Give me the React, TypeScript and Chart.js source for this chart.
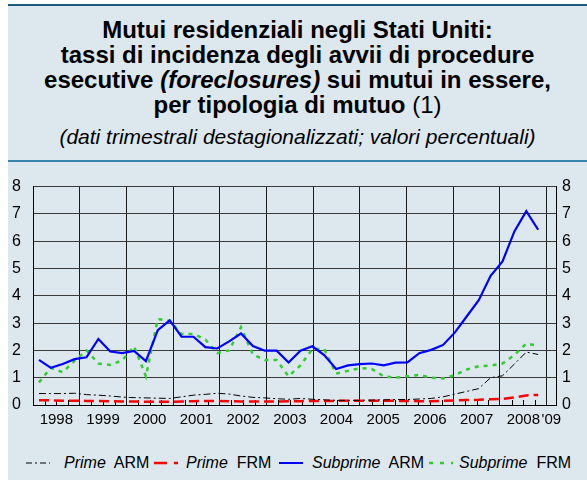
import React, { useEffect, useRef } from 'react';
import { Chart, registerables } from 'chart.js';

Chart.register(...registerables);

// ---- data ----
const years = [1998, 1999, 2000, 2001, 2002, 2003, 2004, 2005, 2006, 2007, 2008];
const quarterNames = ['I', 'II', 'III', 'IV'];
const categories = years.flatMap((y) => quarterNames.map((q) => `${q} ${y}`));
const yearTickLabels = ['1998', '1999', '2000', '2001', '2002', '2003', '2004', '2005', '2006', '2007', '2008', "'09"];

const primeARM = [
  0.42, 0.42, 0.42, 0.43, 0.38, 0.36, 0.33, 0.29, 0.27, 0.26, 0.25, 0.24, 0.30, 0.36, 0.39, 0.43,
  0.40, 0.33, 0.28, 0.26, 0.23, 0.21, 0.24, 0.21, 0.19, 0.17, 0.17, 0.17, 0.18, 0.19, 0.20, 0.20,
  0.22, 0.24, 0.30, 0.40, 0.50, 0.60, 1.00, 1.07, 1.50, 1.94, 1.85,
];
const primeFRM = [
  0.17, 0.17, 0.16, 0.16, 0.15, 0.15, 0.14, 0.13, 0.13, 0.12, 0.12, 0.12, 0.13, 0.14, 0.15, 0.15,
  0.14, 0.13, 0.13, 0.13, 0.13, 0.14, 0.14, 0.15, 0.15, 0.15, 0.16, 0.16, 0.16, 0.16, 0.15, 0.15,
  0.14, 0.14, 0.15, 0.17, 0.18, 0.19, 0.21, 0.22, 0.28, 0.35, 0.37,
];
const subprimeARM = [
  1.65, 1.36, 1.50, 1.68, 1.75, 2.42, 1.96, 1.90, 1.98, 1.61, 2.74, 3.10, 2.50, 2.50, 2.12, 2.07,
  2.33, 2.62, 2.16, 1.99, 1.99, 1.56, 1.99, 2.15, 1.83, 1.32, 1.45, 1.50, 1.52, 1.45, 1.55, 1.56,
  1.90, 2.02, 2.20, 2.66, 3.25, 3.84, 4.73, 5.26, 6.36, 7.10, 6.42,
];
const subprimeFRM = [
  0.83, 1.36, 1.20, 1.62, 2.00, 1.52, 1.47, 1.63, 2.15, 1.05, 3.15, 3.08, 2.60, 2.60, 2.40, 1.90,
  2.00, 2.85, 1.85, 1.65, 1.65, 1.05, 1.45, 2.05, 2.05, 1.15, 1.25, 1.35, 1.32, 1.05, 1.00, 1.05,
  1.10, 1.00, 0.97, 1.10, 1.30, 1.42, 1.44, 1.52, 1.83, 2.25, 2.17,
];

const FONT = "'Liberation Sans', Arial, Helvetica, sans-serif";
const X_MIN = 1998;
const X_MAX = 2009.2;

const quarterTicks = {
  id: 'quarterTicks',
  beforeDatasetsDraw(chart: any) {
    const s = chart.scales.x;
    const { bottom } = chart.chartArea;
    const ctx = chart.ctx;
    ctx.save();
    ctx.strokeStyle = '#000';
    ctx.lineWidth = 1;
    for (let k = 1; X_MIN + k / 4 < X_MAX; k++) {
      if (k % 4 === 0) continue;
      const px = Math.round(s.getPixelForValue(X_MIN + k / 4)) + 0.5;
      ctx.beginPath();
      ctx.moveTo(px, bottom);
      ctx.lineTo(px, bottom - 5);
      ctx.stroke();
    }
    ctx.restore();
  },
};

function LegendSample({ color, width, dash }: { color: string; width: number; dash?: string }) {
  return (
    <svg width={24} height={10} style={{ display: 'block' }}>
      <line x1={0} y1={5} x2={24} y2={5} stroke={color} strokeWidth={width} strokeDasharray={dash} />
    </svg>
  );
}

export default function App() {
  const ref = useRef<HTMLCanvasElement | null>(null);

  useEffect(() => {
    if (!ref.current) return;
    const tickFont = { family: FONT, size: 16 };
    const chart = new Chart(ref.current, {
      type: 'line',
      data: {
        labels: categories,
        datasets: [
          { label: 'Prime ARM', data: primeARM, borderColor: '#000000', borderWidth: 1, borderDash: [7, 3, 2, 3], pointRadius: 0, xAxisID: 'xq', yAxisID: 'y', tension: 0 },
          { label: 'Prime FRM', data: primeFRM, borderColor: '#ff0000', borderWidth: 2.5, borderDash: [10, 5], pointRadius: 0, xAxisID: 'xq', yAxisID: 'y', tension: 0 },
          { label: 'Subprime ARM', data: subprimeARM, borderColor: '#0000ff', borderWidth: 2.2, pointRadius: 0, xAxisID: 'xq', yAxisID: 'y', tension: 0 },
          { label: 'Subprime FRM', data: subprimeFRM, borderColor: '#33cc33', borderWidth: 2.5, borderDash: [4, 5], pointRadius: 0, xAxisID: 'xq', yAxisID: 'y', tension: 0 },
        ],
      },
      options: {
        animation: false,
        responsive: false,
        layout: { padding: { top: 14, left: 0, right: 0, bottom: 0 } },
        plugins: { legend: { display: false }, tooltip: { enabled: false } },
        scales: {
          xq: { type: 'category', display: false, offset: true },
          x: {
            type: 'linear',
            position: 'bottom',
            min: X_MIN,
            max: X_MAX,
            afterBuildTicks: (s: any) => {
              const t: any[] = [];
              years.forEach((y) => {
                t.push({ value: y });
                t.push({ value: y + 0.5 });
              });
              t.push({ value: 2009 });
              t.push({ value: 2009.1 });
              s.ticks = t;
            },
            grid: {
              color: (c: any) => (c.tick && Number.isInteger(c.tick.value) ? '#1a1a1a' : 'rgba(0,0,0,0)'),
              lineWidth: 1,
              drawTicks: false,
            },
            border: { display: true, color: '#000', width: 1 },
            ticks: {
              autoSkip: false,
              maxRotation: 0,
              padding: 6,
              color: '#000',
              font: { family: FONT, size: 15 },
              callback: (v: any) => {
                const n = Number(v);
                if (Number.isInteger(n)) return '';
                if (n > 2009) return yearTickLabels[11];
                return yearTickLabels[Math.floor(n) - 1998];
              },
            },
            afterFit: (s: any) => { s.height = 35; },
          },
          y: {
            position: 'left',
            min: 0,
            max: 8,
            ticks: { stepSize: 1, padding: 12, color: '#000', font: tickFont },
            grid: { color: '#3a3a3a', lineWidth: 1, drawTicks: false },
            border: { display: true, color: '#000', width: 1 },
            afterFit: (s: any) => { s.width = 25; },
          },
          y2: {
            position: 'right',
            min: 0,
            max: 8,
            ticks: { stepSize: 1, padding: 6, color: '#000', font: tickFont },
            grid: { drawOnChartArea: false, drawTicks: false },
            border: { display: true, color: '#000', width: 1 },
            afterFit: (s: any) => { s.width = 31; },
          },
        },
      } as any,
      plugins: [quarterTicks],
    });
    return () => chart.destroy();
  }, []);

  const titleLine: React.CSSProperties = { margin: 0, whiteSpace: 'nowrap' };
  const legendText: React.CSSProperties = { position: 'absolute', top: 453, fontSize: 16, whiteSpace: 'nowrap', lineHeight: '20px' };

  return (
    <div style={{ position: 'absolute', left: 8, top: 0, width: 579, height: 480, background: '#fff', fontFamily: FONT, color: '#000' }}>
      <div style={{ position: 'absolute', left: 0, top: 4, width: 579, height: 2, background: '#1d5a80' }} />
      <div style={{ position: 'absolute', left: 0, top: 6, width: 579, height: 474, background: '#dce8ee' }} />
      <div style={{ position: 'absolute', left: 0, top: 17, width: 579, textAlign: 'center', fontWeight: 'bold', fontSize: 24, lineHeight: '25px' }}>
        <div style={titleLine}>Mutui residenziali negli Stati Uniti:</div>
        <div style={titleLine}>tassi di incidenza degli avvii di procedure</div>
        <div style={titleLine}>esecutive <i>(foreclosures)</i> sui mutui in essere,</div>
        <div style={titleLine}>per tipologia di mutuo <span style={{ fontWeight: 'normal' }}>(1)</span></div>
      </div>
      <div style={{ position: 'absolute', left: 0, top: 125, width: 579, textAlign: 'center', fontStyle: 'italic', fontSize: 21, lineHeight: '24px' }}>
        (dati trimestrali destagionalizzati; valori percentuali)
      </div>
      <div style={{ position: 'absolute', left: 0, top: 160, width: 579, height: 2, background: '#3a85ad' }} />
      <canvas ref={ref} width={579} height={275} style={{ position: 'absolute', left: 0, top: 165, width: 579, height: 275 }} />
      <div style={{ position: 'absolute', left: 18, top: 458 }}><LegendSample color="#000" width={1} dash="6 3 2 3" /></div>
      <div style={{ ...legendText, left: 56 }}><i>Prime</i>&nbsp; ARM</div>
      <div style={{ position: 'absolute', left: 146, top: 458 }}><LegendSample color="#ff0000" width={2.5} dash="13 7" /></div>
      <div style={{ ...legendText, left: 178 }}><i>Prime</i>&nbsp; FRM</div>
      <div style={{ position: 'absolute', left: 271, top: 458 }}><LegendSample color="#0000ff" width={2} /></div>
      <div style={{ ...legendText, left: 304 }}><i>Subprime</i>&nbsp; ARM</div>
      <div style={{ position: 'absolute', left: 421, top: 458 }}><LegendSample color="#33cc33" width={2.5} dash="4 7" /></div>
      <div style={{ ...legendText, left: 451 }}><i>Subprime</i>&nbsp; FRM</div>
    </div>
  );
}
